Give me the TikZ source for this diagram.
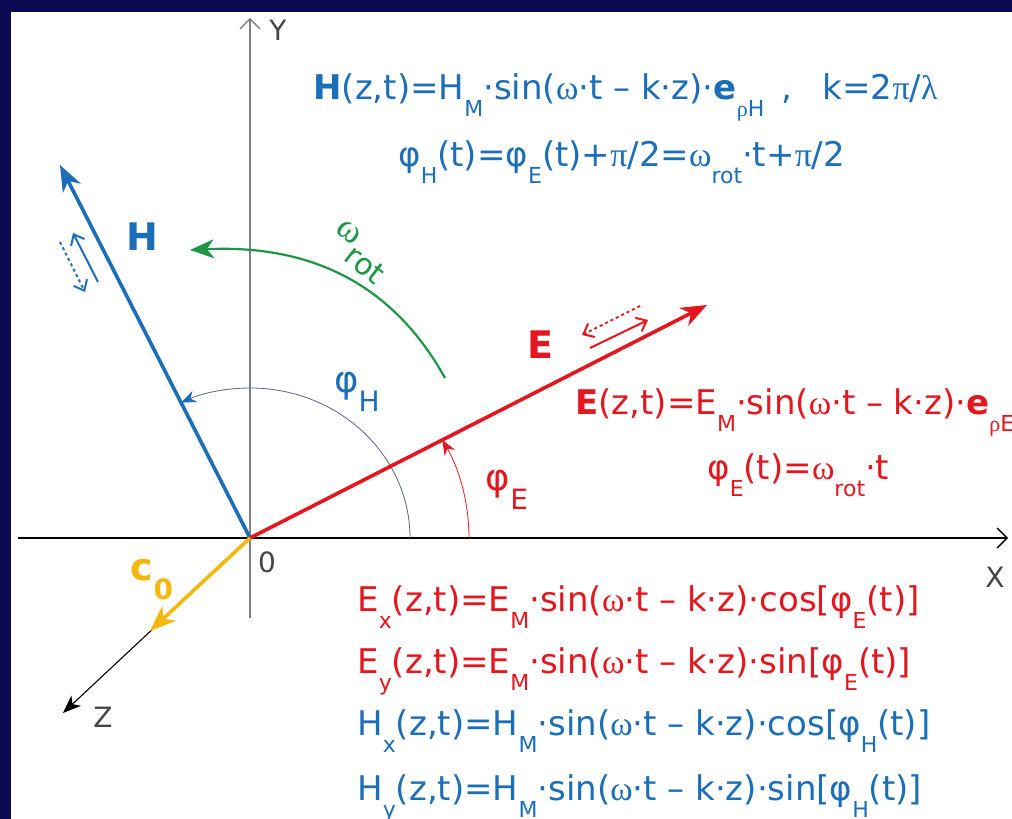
\documentclass[tikz,border=0pt]{standalone}
\usepackage{fontspec}
\setmainfont{DejaVu Sans}
\newfontfamily\grkfont{Liberation Serif}
\usetikzlibrary{arrows.meta,calc}
\definecolor{slidenavy}{RGB}{10,10,82}
\definecolor{hblue}{RGB}{28,110,185}
\definecolor{ered}{RGB}{228,22,30}
\definecolor{rotgreen}{RGB}{30,150,72}
\definecolor{cyellow}{RGB}{245,183,10}
\definecolor{axisgray}{RGB}{70,70,70}
\definecolor{arcblue}{RGB}{85,100,140}
\newcommand{\gk}[1]{{\grkfont #1}}
\newcommand{\lo}[2][22]{\raisebox{-0.5em}{\fontsize{#1}{#1}\selectfont #2}}

\begin{document}
\begin{tikzpicture}[x=1pt, y=1pt, thick, font=\fontsize{34}{40}\selectfont]
  \tikzstyle{vec} = [line width=3.6pt, -{Stealth[length=26pt,width=20pt,inset=8pt]}]
  \tikzstyle{axis} = [line width=1.3pt]
  \tikzstyle{small} = [line width=2pt, -{Straight Barb[length=9pt,width=15pt]}]
  \tikzstyle{formula} = [anchor=base west, inner sep=0pt]
  \tikzstyle{axislabel} = [text=axisgray, font=\fontsize{28}{30}\selectfont]
  \tikzstyle{biglabel} = [font=\bfseries\fontsize{38}{40}\selectfont]

  % slide frame
  \fill[slidenavy] (-250,-281) rectangle (762,538);
  \fill[white] (-239,-281) rectangle (762,526);
  \clip (-250,-281) rectangle (762,538);

  \coordinate (O) at (0,0);
  \coordinate (xl) at (-232,0);
  \coordinate (xr) at (758,0);
  \coordinate (yb) at (0,-80);
  \coordinate (yt) at (0,520);
  \coordinate (zt) at (-187,-175);
  \coordinate (ct) at (-100,-93);
  \coordinate (Et) at (457,233);
  \coordinate (Ht) at (-190,373);
  \coordinate (g1) at (195,160);
  \coordinate (g2) at (-60,288);
  \coordinate (ah) at (160,0);
  \coordinate (ae) at (219,0);

  % axes
  \draw[axis, -{Straight Barb[length=10pt,width=20pt]}] (xl) -- (xr);
  \draw[axis, gray, -{Straight Barb[length=10pt,width=20pt]}] (yb) -- (yt);
  \draw[line width=1.1pt, -{Stealth[length=18pt,width=14pt,inset=5pt]}] (O) -- (zt);

  % angle arcs
  \draw[arcblue, line width=0.8pt, -{Stealth[length=15pt,width=12pt,color=hblue]}] (ah) arc[start angle=0, end angle=115.5, x radius=160, y radius=150];
  \draw[ered, line width=0.8pt, -{Stealth[length=15pt,width=12pt]}] (ae) arc[start angle=0, end angle=28.6, x radius=219, y radius=205];
  \draw[rotgreen, line width=2.2pt, -{Stealth[length=24pt,width=19pt,inset=7pt]}] (g1) .. controls (155,232) and (85,295) .. (g2);

  % field vectors
  \draw[vec, hblue] (O) -- (Ht);
  \draw[vec, ered] (O) -- (Et);
  \draw[vec, cyellow] (O) -- (ct);

  % small double arrows
  \coordinate (es1) at (340,190); \coordinate (es2) at (398,218);
  \coordinate (ed1) at (390,232); \coordinate (ed2) at (332,203);
  \coordinate (hs1) at (-152,256); \coordinate (hs2) at (-177,305);
  \coordinate (hd1) at (-190,296); \coordinate (hd2) at (-165,246);
  \draw[small, ered] (es1) -- (es2);
  \draw[small, ered, dashed] (ed1) -- (ed2);
  \draw[small, hblue] (hs1) -- (hs2);
  \draw[small, hblue, dashed] (hd1) -- (hd2);

  % labels
  \node[axislabel] (xlab) at (745,-39) {X};
  \node[axislabel] (ylab) at (28,508) {Y};
  \node[axislabel] (zlab) at (-147,-179) {Z};
  \node[axislabel] (olab) at (17,-24) {0};
  \node[biglabel, text=ered] (elab) at (290,193) {E};
  \node[biglabel, text=hblue] (hlab) at (-108,301) {H};
  \node[biglabel, text=cyellow] (clab) at (-98,-42) {c\lo[28]{0}};
  \node[text=hblue, font=\fontsize{37}{40}\selectfont] (phhlab) at (107,146) {φ\lo[28]{H}};
  \node[text=ered, font=\fontsize{37}{40}\selectfont] (phelab) at (257,48) {φ\lo[28]{E}};
  \node[text=rotgreen, rotate=-38, font=\fontsize{36}{40}\selectfont] (wlab) at (110,286) {\gk{ω}\lo[30]{rot}};

  % formulas
  \node[formula, text=hblue] (hform) at (63,438) {\textbf{H}(z,t)=H\lo{M}·sin(\gk{ω}·t – k·z)·\textbf{e}\lo{\gk{ρ}H}\hspace{0.5em},\hspace{0.9em}k=2\gk{π}/\gk{λ}};
  \node[formula, text=hblue] (phform) at (148,371) {φ\lo{H}(t)=φ\lo{E}(t)+\gk{π}/2=\gk{ω}\lo{rot}·t+\gk{π}/2};
  \node[formula, text=ered] (eform) at (325,123) {\textbf{E}(z,t)=E\lo{M}·sin(\gk{ω}·t – k·z)·\textbf{e}\lo{\gk{ρ}E}};
  \node[formula, text=ered] (pheform) at (457,58) {φ\lo{E}(t)=\gk{ω}\lo{rot}·t};
  \node[formula, text=ered] (exform) at (107,-73) {E\lo{x}(z,t)=E\lo{M}·sin(\gk{ω}·t – k·z)·cos[φ\lo{E}(t)]};
  \node[formula, text=ered] (eyform) at (107,-135) {E\lo{y}(z,t)=E\lo{M}·sin(\gk{ω}·t – k·z)·sin[φ\lo{E}(t)]};
  \node[formula, text=hblue] (hxform) at (107,-197) {H\lo{x}(z,t)=H\lo{M}·sin(\gk{ω}·t – k·z)·cos[φ\lo{H}(t)]};
  \node[formula, text=hblue] (hyform) at (107,-262) {H\lo{y}(z,t)=H\lo{M}·sin(\gk{ω}·t – k·z)·sin[φ\lo{H}(t)]};
\end{tikzpicture}
\end{document}
